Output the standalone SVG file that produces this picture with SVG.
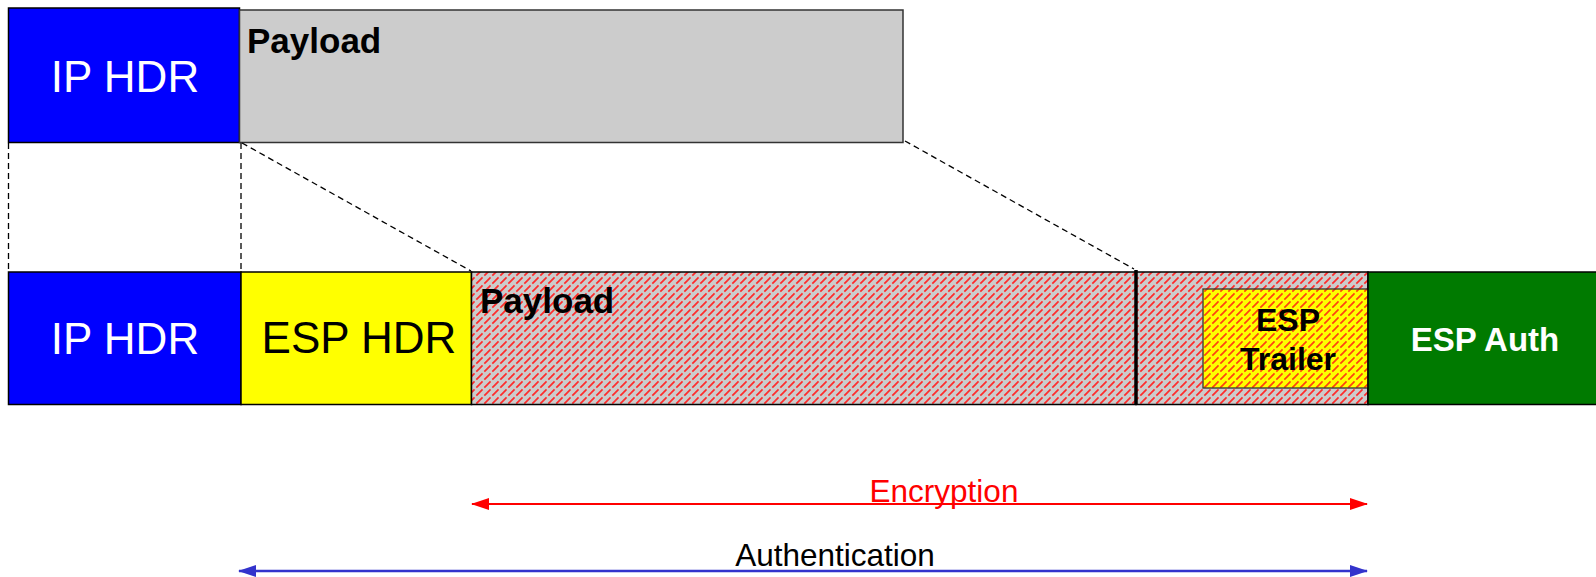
<svg xmlns="http://www.w3.org/2000/svg" width="1596" height="577" viewBox="0 0 1596 577">
  <style>
    .box { stroke: #000; stroke-width: 1.5; }
    .lbl { font-family: "Liberation Sans", Arial, sans-serif; }
    .big { font-size: 44px; }
    .bold { font-weight: bold; }
    .dash { fill: none; stroke: #000; stroke-width: 1.3; stroke-dasharray: 6 4; }
  </style>
  <defs>
    <!-- red diagonal hatch on grey -->
    <pattern id="hatchGrey" width="8" height="8" patternUnits="userSpaceOnUse">
      <rect width="8" height="8" fill="#cccccc"/>
      <path d="M-1,9 L9,-1 M-3,3 L3,-3 M5,11 L11,5" stroke="#ff2a2a" stroke-width="1.7" stroke-dasharray="5 2.5"/>
    </pattern>
    <!-- red diagonal hatch on yellow -->
    <pattern id="hatchYellow" width="8" height="8" patternUnits="userSpaceOnUse">
      <rect width="8" height="8" fill="#ffff00"/>
      <path d="M-1,9 L9,-1 M-3,3 L3,-3 M5,11 L11,5" stroke="#ff4010" stroke-width="1.7" stroke-dasharray="5 2.5"/>
    </pattern>
    <marker id="arrRed" viewBox="0 0 18 12" refX="17" refY="6" markerWidth="18" markerHeight="12" markerUnits="userSpaceOnUse" orient="auto-start-reverse">
      <path d="M0,0 L18,6 L0,12 Z" fill="#ff0000"/>
    </marker>
    <marker id="arrBlue" viewBox="0 0 18 12" refX="17" refY="6" markerWidth="18" markerHeight="12" markerUnits="userSpaceOnUse" orient="auto-start-reverse">
      <path d="M0,0 L18,6 L0,12 Z" fill="#3333cc"/>
    </marker>
  </defs>

  <rect width="1596" height="577" fill="#ffffff"/>

  <!-- original packet -->
  <g id="orig-ip-hdr">
    <rect class="box" x="8.5" y="8" width="231" height="134.5" fill="#0000ff"/>
    <text class="lbl big" x="125" y="92" text-anchor="middle" fill="#ffffff">IP HDR</text>
  </g>
  <g id="orig-payload">
    <rect x="239.5" y="10" width="663.5" height="132.5" fill="#cccccc" stroke="#333" stroke-width="1.5"/>
    <text class="lbl bold" x="247" y="53" font-size="35" fill="#000">Payload</text>
  </g>

  <!-- ESP packet -->
  <g id="esp-ip-hdr">
    <rect class="box" x="8.5" y="272" width="232.5" height="132.5" fill="#0000ff"/>
    <text class="lbl big" x="125" y="354" text-anchor="middle" fill="#ffffff">IP HDR</text>
  </g>
  <g id="esp-hdr">
    <rect class="box" x="241" y="272" width="230.5" height="132.5" fill="#ffff00"/>
    <text class="lbl big" x="359" y="353" text-anchor="middle" fill="#000">ESP HDR</text>
  </g>
  <g id="esp-payload">
    <rect class="box" x="471.5" y="272" width="664.5" height="132.5" fill="url(#hatchGrey)"/>
    <text class="lbl bold" x="480" y="313" font-size="35" fill="#000">Payload</text>
  </g>
  <g id="esp-trailer">
    <rect class="box" x="1136" y="272" width="232" height="132.5" fill="url(#hatchGrey)"/>
    <rect x="1203" y="289" width="165" height="99" fill="url(#hatchYellow)" stroke="#333" stroke-width="1.3"/>
    <text class="lbl bold" x="1288" y="331" font-size="32" text-anchor="middle" fill="#000">ESP</text>
    <text class="lbl bold" x="1288" y="370" font-size="32" text-anchor="middle" fill="#000">Trailer</text>
    <line x1="1136" y1="270" x2="1136" y2="405" stroke="#000" stroke-width="3.5"/>
  </g>
  <g id="esp-auth">
    <rect class="box" x="1368" y="272" width="230" height="132.5" fill="#007a00"/>
    <text class="lbl bold" x="1485" y="351" font-size="33" text-anchor="middle" fill="#ffffff">ESP Auth</text>
  </g>

  <!-- connectors -->
  <g id="connectors">
    <line class="dash" x1="8.5" y1="143" x2="8.5" y2="272"/>
    <line class="dash" x1="241" y1="143" x2="241" y2="272"/>
    <line class="dash" x1="242" y1="143" x2="471" y2="271"/>
    <line class="dash" x1="905" y1="141" x2="1134" y2="269"/>
    <line x1="472" y1="504" x2="1367" y2="504" stroke="#ff0000" stroke-width="2" marker-start="url(#arrRed)" marker-end="url(#arrRed)"/>
    <line x1="239" y1="571" x2="1367" y2="571" stroke="#3333cc" stroke-width="2.5" marker-start="url(#arrBlue)" marker-end="url(#arrBlue)"/>
    <text class="lbl" x="944" y="502" font-size="31.5" text-anchor="middle" fill="#ff0000">Encryption</text>
    <text class="lbl" x="835" y="566" font-size="31.5" text-anchor="middle" fill="#000">Authentication</text>
  </g>
</svg>
